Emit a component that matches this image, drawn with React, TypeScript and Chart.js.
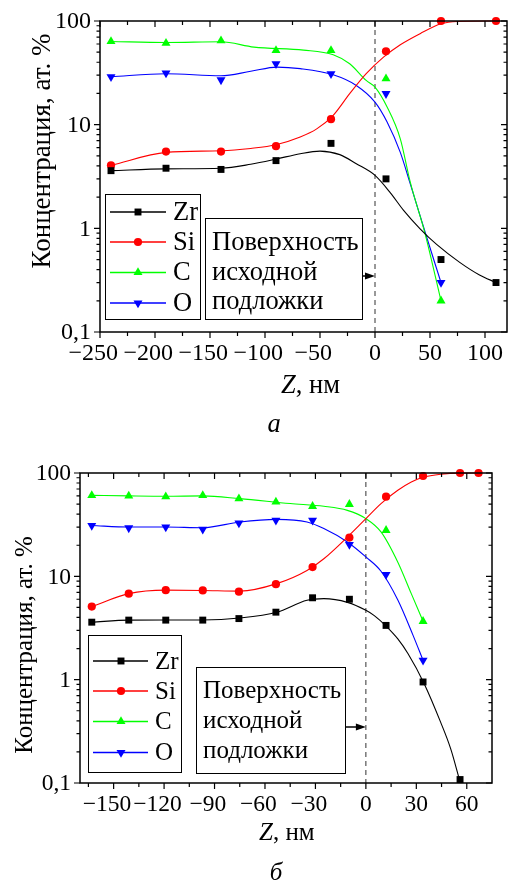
import React, { useEffect, useRef } from 'react';
import { Chart, registerables } from 'chart.js';

Chart.register(...registerables);

const SERIF = '"Liberation Serif", "Times New Roman", serif';

// ---------------- Panel а ----------------
const zA = [-240, -190, -140, -90, -40, 10, 60, 110];
const zrA = [3.6, 3.8, 3.7, 4.5, 6.6, 3.0, 0.5, 0.3];
const siA = [4.05, 5.5, 5.5, 6.2, 11.3, 51, 100, 100];
const cA = [63.5, 61, 64.5, 52, 52, 27.8, 0.2];
const oA = [29, 31.5, 27, 38.7, 31, 19.9, 0.3];

const zrFitZA = [-240, -190, -140, -113, -90, -68, -50, -32, -17, 0, 14, 26, 41, 56, 77, 95, 110];
const zrFitA = [3.6, 3.75, 3.8, 4.15, 4.65, 5.25, 5.56, 5.14, 4.2, 3.24, 2.2, 1.49, 0.99, 0.7, 0.47, 0.355, 0.3];
const siFitZA = [-240, -190, -140, -113, -90, -68, -53, -38, -23, -8, 8, 23, 41, 60, 75, 110];
const siFitA = [4.05, 5.4, 5.6, 5.9, 6.4, 7.6, 9.1, 12.3, 19.9, 31, 45, 59, 75.5, 94, 99, 100];
const cFitZA = [-240, -190, -140, -110, -65, -38, -23, -8, 0, 11, 23, 32, 45.5, 60];
const cFitA = [63.5, 62, 63, 56, 52.4, 47.3, 38.7, 26.7, 23, 14.8, 7.3, 2.8, 0.89, 0.2];
const oFitZA = [-240, -190, -140, -113, -89, -68, -38, -17, 0, 11, 23, 32, 47, 60];
const oFitA = [29, 31, 29.6, 32.7, 35.9, 34.7, 30.3, 23.9, 16.5, 10.6, 5.4, 2.7, 0.82, 0.3];

const xTicksA = [-250, -200, -150, -100, -50, 0, 50, 100];
const xMinorA = [-225, -175, -125, -75, -25, 25, 75];

// ---------------- Panel б ----------------
const zB = [-163, -141, -119, -97, -75.5, -53.5, -31.7, -9.8, 12, 34, 56, 67];
const zrB = [3.6, 3.77, 3.77, 3.77, 3.9, 4.5, 6.2, 6.0, 3.35, 0.95, 0.108];
const siB = [5.1, 6.8, 7.35, 7.3, 7.1, 8.4, 12.3, 23.7, 59, 93.5, 100, 100];
const cB = [60.8, 60, 59, 60.8, 56.5, 52.4, 47.6, 49.8, 27.9, 3.67];
const oB = [31, 29.4, 30, 28.5, 32.8, 34.8, 34.8, 20.3, 10.4, 1.54];

const zrFitZB = [-163, -141, -119, -97, -75, -53, -35, -25, -11, 0, 5, 12, 19, 25, 34.6, 44.5, 50.5, 55.5];
const zrFitB = [3.6, 3.77, 3.78, 3.78, 3.95, 4.5, 5.86, 6.08, 5.6, 4.69, 4.17, 3.3, 2.48, 1.79, 0.92, 0.386, 0.213, 0.11];
const siFitZB = [-163, -141, -119, -97, -75, -53, -35, -25, -11, 0, 9, 19, 27, 34, 45, 56, 67];
const siFitB = [5.1, 6.8, 7.35, 7.3, 7.2, 8.5, 11.4, 14.8, 24, 36.2, 50.6, 68, 81.8, 91, 97.5, 99.8, 100];
const cFitZB = [-163, -141, -119, -97, -75, -45, -25, -11, 0, 9, 19, 27, 34];
const cFitB = [60.8, 60, 59.5, 60, 56.5, 50.6, 47.6, 43.5, 36.2, 26.9, 13.7, 6.8, 3.67];
const oFitZB = [-163, -141, -119, -97, -75, -53, -35, -25, -11, 0, 9, 19, 28, 34];
const oFitB = [31, 30, 30, 29.5, 33.6, 35.6, 33.6, 29, 21.5, 15.4, 11.2, 5.9, 2.7, 1.54];

const xTicksB = [-150, -120, -90, -60, -30, 0, 30, 60];
const xMinorB = [-165, -135, -105, -75, -45, -15, 15, 45];

// ---------------- shared ----------------
const yTicks = [0.1, 1, 10, 100];
const yTickLabels = ['0,1', '1', '10', '100'];
const yMinor = [0.2, 0.3, 0.4, 0.5, 0.6, 0.7, 0.8, 0.9, 2, 3, 4, 5, 6, 7, 8, 9, 20, 30, 40, 50, 60, 70, 80, 90];
const seriesNames = ['Zr', 'Si', 'C', 'O'];
const seriesColors = ['#000000', '#ff0000', '#00ff00', '#0000ff'];
const seriesStyles = ['rect', 'circle', 'triangle', 'triangleDown'];
const annotationLines = ['Поверхность', 'исходной', 'подложки'];
const yTitle = 'Концентрация, ат. %';

const markerRadius: Record<string, number> = { rect: 4.9, circle: 4.1, triangle: 5.2, triangleDown: 5.2 };

function drawMarker(ctx: CanvasRenderingContext2D, style: string, x: number, y: number, color: string) {
  const r = markerRadius[style];
  ctx.save();
  ctx.fillStyle = color;
  ctx.beginPath();
  if (style === 'rect') {
    const s = r * Math.SQRT1_2;
    ctx.rect(x - s, y - s, 2 * s, 2 * s);
  } else if (style === 'circle') {
    ctx.arc(x, y, r, 0, Math.PI * 2);
  } else {
    const sgn = style === 'triangle' ? 1 : -1;
    ctx.moveTo(x, y - sgn * r);
    ctx.lineTo(x + r * Math.sin((2 * Math.PI) / 3), y + sgn * r / 2);
    ctx.lineTo(x - r * Math.sin((2 * Math.PI) / 3), y + sgn * r / 2);
    ctx.closePath();
  }
  ctx.fill();
  ctx.restore();
}

type PanelCfg = {
  xMin: number; xMax: number;
  xMajor: number[]; xMinor: number[];
  height: number;
  padding: { left: number; top: number; right: number; bottom: number };
  tickFont: number; textFont: number;
  pts: { xs: number[]; ys: number[][] };
  fits: { xs: number[][]; ys: number[][] };
  legend: { box: number[]; rows: number[]; lineX: number[]; markX: number; textX: number };
  annot: { box: number[]; lines: number[]; textX: number; arrowY: number };
  yTitlePos: number[]; yTitleSize: number;
  zTitle: number[]; letter: string; letterPos: number[];
};

const panelA: PanelCfg = {
  xMin: -250, xMax: 120, xMajor: xTicksA, xMinor: xMinorA,
  height: 440,
  padding: { left: 100, top: 21, right: 5, bottom: 108 },
  tickFont: 24, textFont: 26.5,
  pts: { xs: zA, ys: [zrA, siA, cA, oA] },
  fits: { xs: [zrFitZA, siFitZA, cFitZA, oFitZA], ys: [zrFitA, siFitA, cFitA, oFitA] },
  legend: { box: [105, 194, 200, 319], rows: [212, 242, 272.5, 303], lineX: [110, 166], markX: 138, textX: 173 },
  annot: { box: [205, 218, 362, 319], lines: [243, 273, 302], textX: 212, arrowY: 276 },
  yTitlePos: [43, 151], yTitleSize: 27,
  zTitle: [281, 386], letter: 'а', letterPos: [274, 425],
};

const panelB: PanelCfg = {
  xMin: -170, xMax: 75, xMajor: xTicksB, xMinor: xMinorB,
  height: 443,
  padding: { left: 80, top: 33, right: 20, bottom: 100 },
  tickFont: 23.5, textFont: 25,
  pts: { xs: zB, ys: [zrB, siB, cB, oB] },
  fits: { xs: [zrFitZB, siFitZB, cFitZB, oFitZB], ys: [zrFitB, siFitB, cFitB, oFitB] },
  legend: { box: [88, 195, 181, 332], rows: [221, 251, 281.5, 312.5], lineX: [93, 148], markX: 121, textX: 155 },
  annot: { box: [196, 227, 345, 333], lines: [251.5, 281.5, 311.5], textX: 203, arrowY: 287 },
  yTitlePos: [25, 205], yTitleSize: 25,
  zTitle: [259, 393], letter: 'б', letterPos: [276, 433],
};

function makeDecor(cfg: PanelCfg) {
  return {
    id: 'decor',
    beforeDatasetsDraw(chart: any) {
      const { ctx, chartArea: a, scales } = chart;
      const x0 = scales.x.getPixelForValue(0);
      ctx.save();
      ctx.strokeStyle = '#333';
      ctx.lineWidth = 1;
      ctx.setLineDash([5, 4]);
      ctx.beginPath();
      ctx.moveTo(x0, a.top);
      ctx.lineTo(x0, a.bottom);
      ctx.stroke();
      ctx.restore();
    },
    afterDatasetsDraw(chart: any) {
      const { ctx, chartArea: a, scales } = chart;
      const xs = scales.x;
      const ys = scales.y;
      ctx.save();
      // frame
      ctx.strokeStyle = '#000';
      ctx.lineWidth = 1.5;
      ctx.strokeRect(a.left, a.top, a.right - a.left, a.bottom - a.top);
      // ticks
      ctx.lineWidth = 1.2;
      ctx.beginPath();
      const tx = (vals: number[], len: number) => {
        vals.forEach((v) => {
          const p = xs.getPixelForValue(v);
          ctx.moveTo(p, a.bottom); ctx.lineTo(p, a.bottom + len);
          ctx.moveTo(p, a.top); ctx.lineTo(p, a.top + len);
        });
      };
      const ty = (vals: number[], len: number) => {
        vals.forEach((v) => {
          const p = ys.getPixelForValue(v);
          ctx.moveTo(a.left - len, p); ctx.lineTo(a.left, p);
          ctx.moveTo(a.right, p); ctx.lineTo(a.right - len, p);
        });
      };
      tx(cfg.xMajor, 6); tx(cfg.xMinor, 4);
      ty(yTicks, 6); ty(yMinor, 3.5);
      ctx.stroke();

      // tick labels
      ctx.fillStyle = '#000';
      ctx.font = `${cfg.tickFont}px ${SERIF}`;
      ctx.textBaseline = 'middle';
      cfg.xMajor.forEach((v) => {
        const p = xs.getPixelForValue(v);
        const digits = String(Math.abs(v));
        const w = ctx.measureText(digits).width;
        ctx.textAlign = 'center';
        ctx.fillText(digits, p, a.bottom + 22);
        if (v < 0) {
          ctx.textAlign = 'right';
          ctx.fillText('−', p - w / 2, a.bottom + 22);
        }
      });
      ctx.textAlign = 'right';
      yTicks.forEach((v, i) => {
        ctx.fillText(yTickLabels[i], a.left - 9, ys.getPixelForValue(v) + 1);
      });

      // y title
      ctx.save();
      ctx.translate(cfg.yTitlePos[0], cfg.yTitlePos[1]);
      ctx.rotate(-Math.PI / 2);
      ctx.textAlign = 'center';
      ctx.font = `${cfg.yTitleSize}px ${SERIF}`;
      ctx.fillText(yTitle, 0, 0);
      ctx.restore();

      // x title
      ctx.textAlign = 'left';
      ctx.font = `italic ${cfg.textFont}px ${SERIF}`;
      ctx.fillText('Z', cfg.zTitle[0], cfg.zTitle[1]);
      const zw = ctx.measureText('Z').width;
      ctx.font = `${cfg.textFont}px ${SERIF}`;
      ctx.fillText(', нм', cfg.zTitle[0] + zw, cfg.zTitle[1]);

      // panel letter
      ctx.textAlign = 'center';
      ctx.font = `italic ${cfg.textFont}px ${SERIF}`;
      ctx.fillText(cfg.letter, cfg.letterPos[0], cfg.letterPos[1]);

      // legend
      const L = cfg.legend;
      ctx.fillStyle = '#fff';
      ctx.fillRect(L.box[0], L.box[1], L.box[2] - L.box[0], L.box[3] - L.box[1]);
      ctx.strokeStyle = '#000';
      ctx.lineWidth = 1;
      ctx.strokeRect(L.box[0] + 0.5, L.box[1] + 0.5, L.box[2] - L.box[0], L.box[3] - L.box[1]);
      ctx.font = `${cfg.textFont}px ${SERIF}`;
      ctx.textAlign = 'left';
      seriesNames.forEach((name, i) => {
        const y = L.rows[i];
        ctx.strokeStyle = seriesColors[i];
        ctx.lineWidth = 1.3;
        ctx.beginPath();
        ctx.moveTo(L.lineX[0], y);
        ctx.lineTo(L.lineX[1], y);
        ctx.stroke();
        drawMarker(ctx, seriesStyles[i], L.markX, y, seriesColors[i]);
        ctx.fillStyle = '#000';
        ctx.fillText(name, L.textX, y + 1);
      });

      // annotation
      const N = cfg.annot;
      ctx.fillStyle = '#fff';
      ctx.fillRect(N.box[0], N.box[1], N.box[2] - N.box[0], N.box[3] - N.box[1]);
      ctx.strokeStyle = '#000';
      ctx.lineWidth = 1;
      ctx.strokeRect(N.box[0] + 0.5, N.box[1] + 0.5, N.box[2] - N.box[0], N.box[3] - N.box[1]);
      ctx.fillStyle = '#000';
      annotationLines.forEach((t, i) => ctx.fillText(t, N.textX, N.lines[i]));
      const x0 = xs.getPixelForValue(0);
      ctx.lineWidth = 1.5;
      ctx.beginPath();
      ctx.moveTo(N.box[2] + 1, N.arrowY);
      ctx.lineTo(x0 - 6, N.arrowY);
      ctx.stroke();
      ctx.beginPath();
      ctx.moveTo(x0, N.arrowY);
      ctx.lineTo(x0 - 10, N.arrowY - 3.5);
      ctx.lineTo(x0 - 10, N.arrowY + 3.5);
      ctx.closePath();
      ctx.fill();
      ctx.restore();
    },
  };
}

function buildConfig(cfg: PanelCfg): any {
  const pointSets = seriesNames.map((name, i) => ({
    label: name,
    data: cfg.pts.ys[i].map((y, j) => ({ x: cfg.pts.xs[j], y })),
    showLine: false,
    pointStyle: seriesStyles[i] === 'rect' ? 'rect' : seriesStyles[i] === 'circle' ? 'circle' : 'triangle',
    rotation: seriesStyles[i] === 'triangleDown' ? 180 : 0,
    pointRadius: markerRadius[seriesStyles[i]],
    pointBackgroundColor: seriesColors[i],
    pointBorderColor: seriesColors[i],
    pointBorderWidth: 0,
    order: 0,
    clip: false,
  }));
  const fitSets = seriesNames.map((name, i) => ({
    label: name + ' fit',
    data: cfg.fits.ys[i].map((y, j) => ({ x: cfg.fits.xs[i][j], y })),
    showLine: true,
    borderColor: seriesColors[i],
    borderWidth: 1.1,
    pointRadius: 0,
    cubicInterpolationMode: 'monotone',
    fill: false,
    order: 1,
    clip: false,
  }));
  return {
    type: 'scatter',
    data: { datasets: [...pointSets, ...fitSets] },
    options: {
      animation: false,
      responsive: false,
      events: [],
      layout: { padding: cfg.padding, autoPadding: false },
      scales: {
        x: { type: 'linear', min: cfg.xMin, max: cfg.xMax, display: false },
        y: { type: 'logarithmic', min: 0.1, max: 100, display: false },
      },
      plugins: { legend: { display: false }, tooltip: { enabled: false } },
    },
    plugins: [makeDecor(cfg)],
  };
}

function Panel({ cfg, top }: { cfg: PanelCfg; top: number }) {
  const ref = useRef<HTMLCanvasElement | null>(null);
  useEffect(() => {
    if (!ref.current) return;
    const chart = new Chart(ref.current, buildConfig(cfg));
    return () => chart.destroy();
  }, [cfg]);
  return (
    <canvas
      ref={ref}
      width={512}
      height={cfg.height}
      style={{ position: 'absolute', left: 0, top, width: 512, height: cfg.height, display: 'block' }}
    />
  );
}

export default function App() {
  return (
    <div style={{ position: 'absolute', left: 0, top: 0, width: 512, height: 883, background: '#fff' }}>
      <Panel cfg={panelA} top={0} />
      <Panel cfg={panelB} top={440} />
    </div>
  );
}
